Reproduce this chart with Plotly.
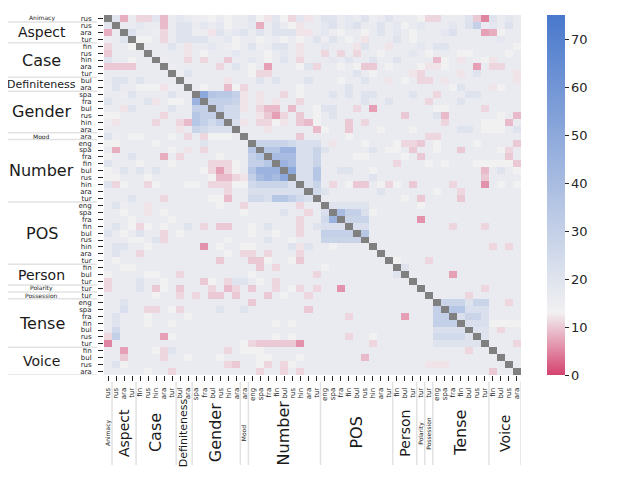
import plotly.graph_objects as go

N = None

groups = ["Animacy", "Aspect", "Case", "Definiteness", "Gender", "Mood", "Number",
          "POS", "Person", "Polarity", "Possession", "Tense", "Voice"]
group_langs = [
    ["rus"],
    ["rus", "ara", "tur"],
    ["fin", "rus", "hin", "ara", "tur"],
    ["bul", "ara"],
    ["spa", "fra", "bul", "rus", "hin", "ara"],
    ["ara"],
    ["eng", "spa", "fra", "fin", "bul", "rus", "hin", "ara", "tur"],
    ["eng", "spa", "fra", "fin", "bul", "rus", "hin", "ara", "tur"],
    ["fin", "bul", "tur"],
    ["tur"],
    ["tur"],
    ["eng", "spa", "fra", "fin", "bul", "rus", "tur"],
    ["fin", "bul", "rus", "ara"],
]

colorbar_ticks = [0, 10, 20, 30, 40, 50, 60, 70]

values = [
    [N,19,8,16,11,11,19,9,16,18,16,15,15,13,16,13,16,16,19,13,12,19,13,11,19,12, 16,20,20,16,18,16,20,15,16,20,16,16,16,13,11,11,16,16,16,20,10,5,20,16,18,16],
    [19,N,16,16,18,16,16,9,16,20,20,16,18,16,18,13,16,16,18,8,16,20,16,13,12,16, 16,18,21,16,18,21,16,16,20,16,18,13,16,18,16,16,16,18,16,21,30,16,18,16,21,16],
    [8,16,N,21,16,16,15,11,16,20,20,15,15,12,20,16,18,20,16,20,16,20,20,20,12,12, 16,18,15,13,16,16,13,16,20,16,18,16,13,16,16,16,18,21,16,16,16,7,8,13,16,16],
    [15,16,20,N,13,13,16,11,16,20,20,20,20,16,16,18,13,16,16,13,15,16,13,16,13,16, 20,15,20,16,13,16,12,16,16,16,20,16,13,16,16,16,16,16,16,16,16,16,16,18,16,16],
    [11,16,16,13,N,16,16,16,20,16,12,16,16,18,16,15,13,16,20,15,16,20,20,16,12,16, 16,18,16,16,16,12,20,16,16,12,16,16,16,18,16,20,20,16,16,16,16,16,16,16,16,13],
    [10,16,16,16,16,N,16,16,16,16,12,16,13,16,16,16,18,16,16,16,13,16,18,16,12,16, 16,11,16,11,16,11,16,16,13,16,16,16,18,16,13,16,16,16,13,13,16,16,16,16,13,16],
    [20,16,16,13,16,16,N,15,16,16,11,16,11,16,16,10,16,16,18,16,13,16,20,16,11,16, 16,16,18,16,20,16,16,20,16,16,20,16,16,16,16,9,13,16,12,16,15,13,12,16,16,16],
    [10,10,10,10,16,16,16,N,15,16,16,16,16,16,11,16,20,16,13,16,7,16,16,16,13,20, 11,16,16,13,16,13,10,10,16,13,16,16,16,13,12,12,13,16,16,16,7,16,11,11,16,16],
    [16,16,16,16,16,16,16,16,N,15,20,16,16,16,16,16,16,16,13,11,11,16,16,16,16,16, 16,16,16,16,16,20,16,13,16,16,16,16,12,11,16,16,16,16,12,16,20,16,16,16,16,12],
    [16,20,20,16,20,16,16,16,16,N,16,16,16,16,16,12,16,16,16,20,16,20,16,16,16,20, 16,16,16,13,16,16,20,16,16,12,16,13,16,11,11,16,12,16,16,16,16,16,16,16,16,12],
    [15,20,16,16,13,13,13,12,15,16,N,16,13,16,16,9,13,11,16,16,16,16,16,16,13,16, 16,16,16,16,20,16,16,16,16,16,16,16,16,16,16,16,16,13,20,16,16,16,12,13,16,16],
    [16,16,15,20,16,16,16,16,20,16,16,N,50,36,34,34,30,12,16,12,16,16,11,16,13,16, 16,16,20,16,20,16,20,20,16,16,16,16,20,16,16,11,16,16,16,20,20,16,16,16,16,16],
    [20,16,16,16,16,20,12,16,13,13,16,45,N,30,30,30,28,12,16,12,16,12,16,16,11,16, 16,16,16,16,16,16,20,16,16,20,16,16,16,16,11,16,16,16,20,16,16,16,16,16,16,16],
    [16,16,12,20,16,16,16,16,20,16,16,30,30,N,30,25,25,12,16,11,9,9,16,9,16,16, 13,20,20,16,16,11,16,7,16,16,16,16,16,16,16,13,13,16,16,16,16,11,16,16,16,16],
    [13,13,16,16,16,16,16,11,16,16,16,35,30,30,N,25,25,16,16,12,10,7,11,16,10,16, 13,16,20,16,16,16,16,16,16,16,16,10,16,16,16,20,9,16,16,16,16,16,16,13,16,9],
    [15,12,16,16,16,16,11,16,16,11,9,35,30,25,30,N,22,12,16,11,11,13,12,16,10,9, 13,16,16,16,10,16,11,16,16,16,16,16,16,16,16,16,11,16,16,16,16,13,13,13,9,16],
    [16,16,16,16,16,16,16,16,16,12,16,28,25,22,22,22,N,16,16,16,12,16,16,16,16,16, 9,13,16,16,10,16,16,16,13,16,16,16,13,16,16,16,16,16,20,20,16,13,13,13,16,20],
    [20,15,16,13,13,16,16,16,13,16,11,16,11,13,13,13,16,N,16,16,16,16,16,16,10,16, 16,16,16,16,13,16,16,16,16,16,16,16,16,16,11,11,16,16,16,16,16,16,16,16,16,16],
    [13,13,16,16,16,16,13,16,16,16,16,16,20,16,16,16,16,16,N,28,28,28,28,25,22,22, 22,16,12,16,16,16,13,16,16,16,13,11,11,10,16,13,16,16,16,16,13,16,16,16,16,10],
    [16,8,16,16,16,16,16,16,13,16,12,16,11,16,16,16,16,16,35,N,35,35,45,45,22,22, 28,20,16,16,16,16,16,20,16,13,13,16,10,16,16,13,16,16,10,16,16,16,16,13,11,16],
    [13,16,16,20,16,16,16,8,16,11,16,16,16,16,13,16,16,16,30,35,N,40,40,40,22,22, 28,16,16,16,16,13,13,16,16,16,16,13,16,10,16,16,16,16,16,16,16,16,16,16,10,16],
    [20,16,16,16,13,16,16,16,13,16,16,16,16,11,11,11,13,16,30,30,35,N,45,40,22,22, 28,16,16,16,16,16,16,16,16,16,11,16,16,16,13,16,13,16,16,16,13,13,13,13,13,10],
    [13,15,20,16,20,16,20,16,16,16,16,16,13,11,7,11,13,16,35,45,45,45,N,50,22,22, 35,16,16,20,20,16,16,13,16,16,16,16,16,16,16,16,16,16,16,16,16,9,16,20,16,13],
    [13,13,16,16,16,13,16,16,16,16,16,16,16,13,9,9,11,12,30,40,45,40,50,N,22,22, 35,16,16,16,16,16,16,20,16,16,16,16,16,16,16,16,16,16,16,16,16,10,16,16,16,16],
    [20,11,13,16,16,11,13,16,16,16,13,13,16,11,11,11,13,13,25,28,28,28,28,22,N,22, 28,16,11,16,13,10,10,16,13,11,13,16,10,16,16,16,16,11,16,16,16,6,16,13,16,13],
    [16,16,16,16,16,16,16,16,16,16,16,16,16,16,16,11,16,16,22,22,22,22,22,22,22,N, 25,20,16,16,16,16,16,16,20,16,16,16,16,16,16,13,16,16,11,16,16,16,16,16,16,16],
    [16,16,16,20,16,16,16,11,16,16,16,16,16,13,13,9,16,16,25,25,22,35,35,30,25,22, N,16,16,16,16,16,16,16,16,16,16,13,16,10,16,16,16,16,10,16,16,16,16,16,16,16],
    [16,20,15,16,16,12,16,16,16,16,16,16,16,16,13,16,16,11,16,16,16,16,16,16,11,16, 16,N,20,20,20,20,20,16,16,16,16,16,16,13,16,16,16,16,16,16,16,16,16,16,16,16],
    [16,16,13,16,16,12,16,13,16,16,16,16,16,16,16,16,16,13,16,16,16,16,20,16,16,11, 16,22,N,40,30,30,22,13,16,16,16,16,16,16,16,16,16,16,16,16,16,16,16,16,16,16],
    [16,16,16,13,16,16,16,16,13,16,16,16,16,16,16,16,16,16,16,16,16,16,16,16,11,16, 16,25,45,N,28,28,28,16,16,16,16,16,16,6,16,16,16,16,16,16,16,16,16,16,16,16],
    [16,20,16,13,11,13,16,13,16,16,20,16,11,16,10,10,16,16,13,16,20,16,16,16,11,16, 20,22,22,22,N,22,22,16,16,16,16,16,16,16,16,16,16,11,16,16,16,11,16,16,16,16],
    [20,16,13,16,20,16,16,11,16,13,16,16,16,16,16,16,16,16,13,16,16,13,16,16,11,16, 16,30,30,30,30,N,35,16,16,16,16,16,16,16,16,16,16,16,16,16,16,16,16,16,16,16],
    [16,16,16,13,13,16,20,11,16,16,16,16,16,16,16,13,16,16,16,16,20,16,16,13,16,16, 16,28,28,28,28,28,N,16,16,16,16,16,16,16,16,16,16,16,16,16,16,16,16,16,16,16],
    [16,20,20,16,16,13,16,16,16,16,16,16,6,16,13,16,16,13,13,16,16,16,16,20,12,20, 16,16,13,16,16,16,16,N,16,16,16,16,16,16,16,16,16,16,16,16,16,16,11,16,11,16],
    [16,20,16,16,11,16,16,16,16,16,16,16,16,16,16,13,16,11,11,16,11,16,16,16,11,16, 16,16,16,16,16,16,16,16,N,16,16,16,16,16,16,16,16,16,16,16,16,16,16,16,16,16],
    [16,13,16,16,16,16,16,16,16,16,16,16,16,16,10,16,16,16,10,10,13,16,16,13,10,16, 16,16,16,16,16,16,16,16,16,N,13,16,16,16,11,16,16,16,16,16,16,16,16,16,16,16],
    [16,16,13,13,16,16,16,16,16,16,16,16,16,16,16,16,16,16,16,10,16,11,16,16,16,16, 16,13,16,16,16,16,16,16,16,16,N,20,16,16,16,16,16,16,16,16,16,16,16,16,16,16],
    [13,16,16,16,16,13,13,16,16,11,16,16,16,16,16,16,16,16,13,16,16,16,16,16,16,16, 11,16,16,16,16,16,16,16,16,16,20,N,16,16,16,16,16,7,16,16,16,16,16,16,16,16],
    [11,16,16,16,20,16,16,13,16,16,16,16,10,13,16,11,20,20,16,13,16,11,16,16,16,16, 16,16,16,16,16,16,16,16,16,16,16,16,N,16,16,16,16,16,16,16,16,16,16,16,16,16],
    [11,16,16,16,20,16,10,13,16,10,16,16,16,11,16,9,11,16,10,16,16,11,16,13,11,16, 11,16,16,6,16,16,16,16,16,16,16,16,16,N,16,16,16,16,16,16,16,11,16,16,16,16],
    [16,16,16,16,16,16,13,16,16,11,16,11,16,10,10,16,10,16,16,16,10,16,13,16,16,11, 16,16,16,16,16,16,16,16,16,16,16,16,16,16,N,16,16,16,16,11,16,16,16,16,16,16],
    [16,16,20,16,16,16,16,16,16,16,16,16,16,16,16,16,16,16,10,16,16,16,16,16,16,16, 16,16,16,16,16,16,16,16,16,16,16,16,16,16,16,N,28,28,28,20,28,28,16,16,11,16],
    [16,16,22,16,16,11,11,16,13,11,16,16,16,16,20,16,16,20,16,16,16,16,16,16,16,10, 16,16,16,16,16,16,16,16,16,16,16,16,16,16,16,30,N,35,35,22,22,22,16,16,16,16],
    [16,20,16,16,16,13,16,16,16,16,13,16,16,16,16,16,16,16,16,16,16,16,16,16,16,16, 16,16,16,16,11,16,16,16,16,16,16,7,16,16,16,30,30,N,22,28,28,22,16,16,16,16],
    [16,20,16,16,16,13,16,16,13,16,16,16,16,16,16,16,16,16,16,16,16,13,16,13,16,16, 16,16,16,16,16,16,16,16,16,16,16,16,16,16,16,30,30,30,N,22,22,22,13,13,13,13],
    [16,25,16,16,16,16,16,16,16,16,16,16,16,16,16,16,16,16,16,16,16,16,16,16,16,16, 16,16,16,16,16,16,16,16,16,16,16,16,16,16,16,22,22,22,22,N,20,20,16,11,16,16],
    [11,30,16,16,16,16,16,7,13,16,16,16,16,16,16,16,16,16,16,16,16,13,16,13,16,16, 16,16,16,16,11,16,16,13,16,16,16,16,16,16,16,25,25,25,25,20,N,20,16,16,16,16],
    [5,16,16,16,16,16,16,16,16,16,16,16,16,16,16,16,16,13,11,10,10,10,10,10,6,16, 16,16,16,16,16,16,16,11,16,16,16,16,16,16,16,20,20,20,20,20,20,N,16,16,16,11],
    [16,16,7,16,16,16,13,11,20,16,16,16,16,16,16,11,16,13,13,13,16,16,16,16,16,16, 16,16,16,16,16,16,16,16,16,16,16,16,16,16,16,16,16,16,16,11,16,16,N,16,16,16],
    [16,16,10,16,16,16,16,11,16,16,13,16,16,16,13,16,16,16,16,13,13,16,16,16,13,16, 16,16,16,16,16,16,9,16,16,16,16,16,16,16,16,16,16,16,16,16,16,16,16,N,16,16],
    [16,20,13,16,16,16,16,16,16,16,16,16,16,16,16,11,10,16,16,13,11,16,11,13,16,16, 16,16,16,16,16,16,16,16,16,16,16,16,16,16,12,12,12,16,16,16,16,16,16,16,N,16],
    [16,16,16,16,16,13,16,16,11,16,16,16,16,16,16,16,16,16,16,11,16,16,11,16,11,16, 16,16,16,16,16,16,16,16,16,16,16,16,16,16,16,16,16,16,16,16,16,16,10,16,16,N],
]

# ---- derived labels ----
langs = [l for g in group_langs for l in g]
n = len(langs)
idx = list(range(n))
starts = []
s = 0
for g in group_langs:
    starts.append(s)
    s += len(g)

label_size = {"Animacy": 6, "Aspect": 14, "Case": 16, "Definiteness": 11, "Gender": 16,
              "Mood": 6, "Number": 16, "POS": 16, "Person": 14, "Polarity": 6,
              "Possession": 6, "Tense": 16, "Voice": 14}

colorscale = [[0.0, "#d5426f"], [13 / 75, "#f2f1f2"], [1.0, "#4978cc"]]

fig = go.Figure()
fig.add_trace(go.Heatmap(
    z=values, x=idx, y=idx, zmin=0, zmax=75, colorscale=colorscale,
    hoverongaps=False,
    colorbar=dict(x=1.062, xanchor="left", y=0.5, yanchor="middle", len=1.0,
                  ypad=0, xpad=0,
                  thickness=18, thicknessmode="pixels", outlinewidth=0,
                  tickvals=colorbar_ticks, ticks="outside", ticklen=4,
                  tickcolor="#262626", tickfont=dict(size=13, color="#262626")),
))

tickfont = dict(size=7, color="#262626", family="DejaVu Sans")
fig.update_xaxes(tickmode="array", tickvals=idx, ticktext=langs, tickangle=-90,
                 tickfont=tickfont, ticks="outside", ticklen=5, tickcolor="#262626",
                 ticklabelstandoff=4,
                 showgrid=False, zeroline=False, showline=False, range=[-0.5, n - 0.5])
fig.update_yaxes(tickmode="array", tickvals=idx, ticktext=langs,
                 tickfont=tickfont, ticks="outside", ticklen=5, tickcolor="#262626",
                 ticklabelstandoff=5,
                 showgrid=False, zeroline=False, showline=False, range=[n - 0.5, -0.5])

annotations = []
shapes = []
for g, st, gl in zip(groups, starts, group_langs):
    c = st + (len(gl) - 1) / 2
    fs = label_size[g]
    annotations.append(dict(text=g, xref="paper", yref="y", x=-0.1487, y=c,
                            showarrow=False, xanchor="center", yanchor="middle",
                            font=dict(size=fs, color="#1a1a1a", family="DejaVu Sans")))
    annotations.append(dict(text=g, xref="x", yref="paper", x=c, y=-0.161,
                            showarrow=False, textangle=-90, xanchor="center", yanchor="middle",
                            font=dict(size=fs, color="#1a1a1a", family="DejaVu Sans")))
    b = st + len(gl) - 0.5
    shapes.append(dict(type="line", xref="paper", yref="y", x0=-0.2494, x1=-0.017,
                       y0=b, y1=b, line=dict(color="#e2e2e2", width=1.5)))
    shapes.append(dict(type="line", xref="x", yref="paper", x0=b, x1=b,
                       y0=-0.019, y1=-0.25, line=dict(color="#e2e2e2", width=1.5)))

# the page body has an 8px default margin, so offsets compensate for it
fig.update_layout(width=640, height=480, margin=dict(l=96, r=127, t=7, b=113),
                  paper_bgcolor="white", plot_bgcolor="#808080",
                  font=dict(family="DejaVu Sans", color="#262626"),
                  annotations=annotations, shapes=shapes, showlegend=False)

fig.write_html("out.html")
